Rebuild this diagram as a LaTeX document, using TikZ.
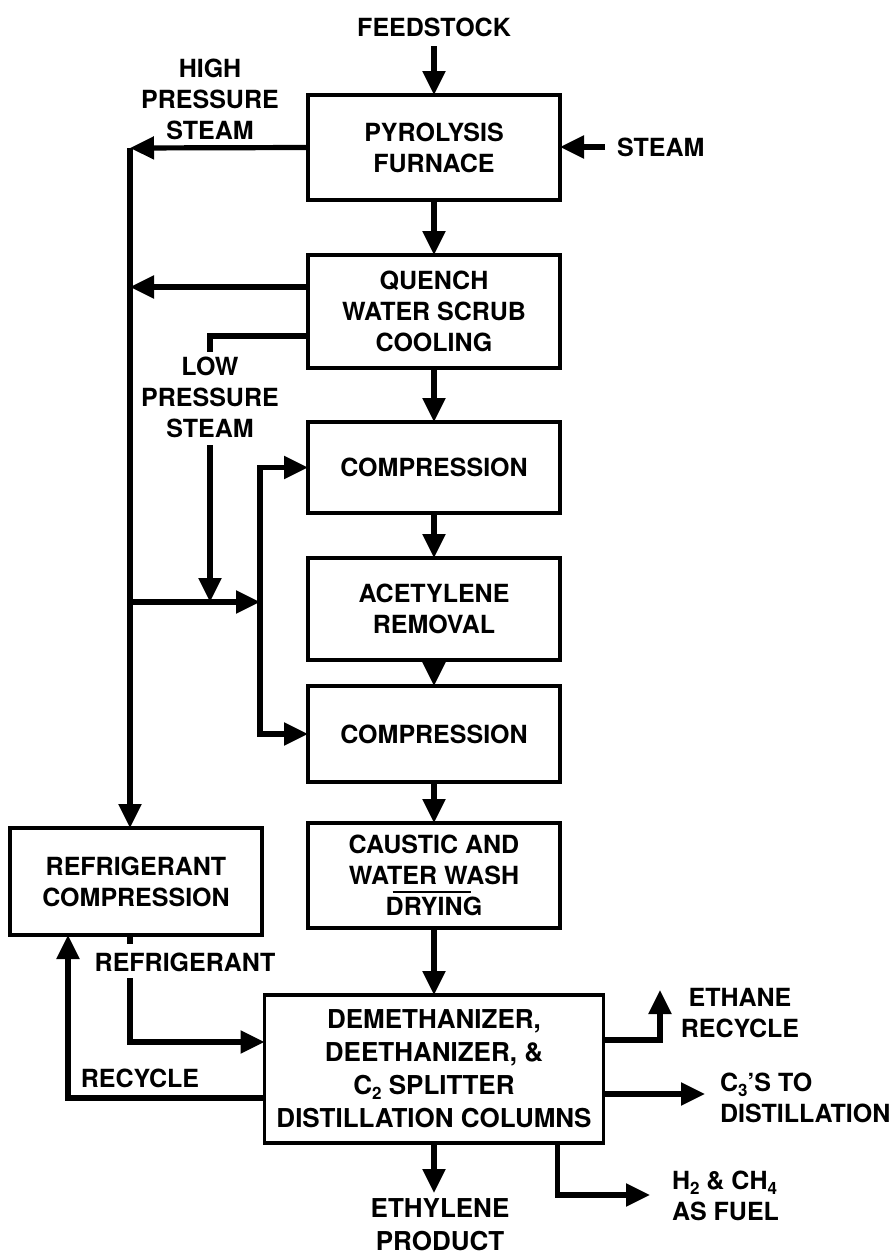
\documentclass[tikz,border=0pt]{standalone}
\usepackage{fontspec}
\setmainfont{TeX Gyre Heros}
\usetikzlibrary{arrows.meta,calc}
\newcommand{\lowidx}[1]{\raisebox{-2.5pt}{\fontsize{8.5}{8.5}\selectfont #1}}
\begin{document}
\begin{tikzpicture}[x=0.5pt,y=-0.5pt,
  every node/.style={font=\fontsize{12.5}{15.5}\selectfont\bfseries, align=center, inner sep=0pt, outer sep=0pt},
  unit/.style={draw, line width=1.9pt, minimum width=126pt},
  flow/.style={line width=2.6pt, -{Triangle[length=12pt,width=11pt]}},
  pipe/.style={line width=2.6pt},
]
\useasboundingbox (0,0) rectangle (895,1258);

% process units
\node[unit, minimum height=52.5pt] (pyro) at (434,147.5) {PYROLYSIS\\FURNACE};
\node[unit, minimum height=56.5pt] (quench) at (434,311.5) {QUENCH\\WATER SCRUB\\COOLING};
\node[unit, minimum height=45.5pt] (comp1) at (434,467.5) {COMPRESSION};
\node[unit, minimum height=51pt] (acet) at (434,609) {ACETYLENE\\REMOVAL};
\node[unit, minimum height=48pt] (comp2) at (434,734) {COMPRESSION};
\node[unit, minimum height=52.5pt] (caus) at (434,875.5) {CAUSTIC AND\\WATER WASH\\\smash{\rlap{\hspace{3.5pt}\rule[11.5pt]{39pt}{1pt}}}DRYING};
\node[unit, minimum height=53.5pt] (refrig) at (136,881.5) {REFRIGERANT\\COMPRESSION};
\node[unit, minimum width=169.5pt, minimum height=74pt, font=\fontsize{13}{16.5}\selectfont\bfseries] (dist) at (434,1069) {DEMETHANIZER,\\DEETHANIZER, \&\\C\lowidx{2} SPLITTER\\DISTILLATION COLUMNS};

% labels
\node (feed) at (434,27) {FEEDSTOCK};
\node[anchor=west] (steam) at (617,147) {STEAM};
\node (hps) at (210,99) {HIGH\\PRESSURE\\STEAM};
\node (lps) at (210,397) {LOW\\PRESSURE\\STEAM};
\node (refl) at (185,962) {REFRIGERANT};
\node (recl) at (140,1078) {RECYCLE};
\node (ethl) at (740,1013) {ETHANE\\RECYCLE};
\node[align=left, anchor=west] (c3l) at (720,1098) {C\lowidx{3}'S TO\\DISTILLATION};
\node[align=left, anchor=west] (h2l) at (672,1196) {H\lowidx{2} \& CH\lowidx{4}\\AS FUEL};
\node[font=\fontsize{13}{16.5}\selectfont\bfseries] (ethy) at (440,1225) {ETHYLENE\\PRODUCT};

% coordinates
\coordinate (hpj) at (130,148);
\coordinate (q1) at ($(quench.north west)+(0,32)$);
\coordinate (q2) at ($(quench.north west)+(0,81)$);
\coordinate (lpstub) at (210,352);
\coordinate (lpend) at (210,602);
\coordinate (j1) at (130,602);
\coordinate (j2) at (260,602);
\coordinate (rs1) at (130,944);
\coordinate (rs2) at (130,978);
\coordinate (r1) at ($(dist.north west)+(0,47)$);
\coordinate (rc1) at ($(dist.north west)+(0,103)$);
\coordinate (rcx) at (68,0);
\coordinate (e1) at ($(dist.north east)+(0,45)$);
\coordinate (etop) at (660,990);
\coordinate (c1) at ($(dist.north east)+(0,99)$);
\coordinate (c3tip) at (705,0);
\coordinate (h1) at ($(dist.south east)+(-46,0)$);
\coordinate (h2) at (650,1195);
\coordinate (ethtip) at (434,1193);

% main flow
\draw[flow, shorten <=5pt] (feed.south) -- (pyro.north);
\draw[flow, shorten <=6pt] (steam.west) -- (steam.west -| pyro.east);
\foreach \a/\b in {pyro/quench,quench/comp1,comp1/acet,acet/comp2,comp2/caus,caus/dist}
  \draw[flow] (\a.south) -- (\b.north);

% steam system
\draw[flow] (pyro.west) -- (hpj);
\draw[flow] (hpj) -- (hpj |- refrig.north);
\draw[flow] (q1) -- (q1 -| hpj);
\draw[pipe] (q2) -| (lpstub);
\draw[flow, shorten <=4pt] (lps.south) -- (lpend);
\draw[flow] (j1) -- (j2);
\draw[flow] (j2) |- (comp1.west);
\draw[flow] (j2) |- (comp2.west);

% refrigeration loop
\draw[pipe] (refrig.south -| hpj) -- (rs1);
\draw[flow] (rs2) |- (r1);
\draw[flow] (rc1) -| (rcx |- refrig.south);

% products
\draw[flow] (e1) -| (etop);
\draw[flow] (c1) -- (c1 -| c3tip);
\draw[flow] (h1) |- (h2);
\draw[flow] (dist.south) -- (ethtip);
\end{tikzpicture}
\end{document}
